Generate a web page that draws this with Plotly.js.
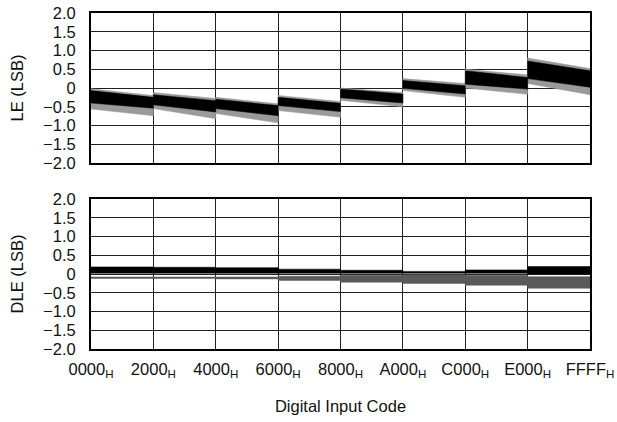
<!DOCTYPE html>
<html>
<head>
<meta charset="utf-8">
<script src="https://cdn.plot.ly/plotly-3.0.1.min.js"></script>
<style>html,body{margin:0;padding:0;background:#fff;}#chart{width:617px;height:422px;}</style>
</head>
<body>
<div id="chart"></div>
<script>
// Segment starts (codes) — each segment spans 0x2000 codes
const segStart = [0x0000, 0x2000, 0x4000, 0x6000, 0x8000, 0xA000, 0xC000, 0xE000];
const segEnd   = [0x2000, 0x4000, 0x6000, 0x8000, 0xA000, 0xC000, 0xE000, 0xFFFF];

// LE (LSB): dense core envelope and spike envelope at segment start / end
const leCoreTopStart  = [-0.07, -0.18, -0.30, -0.25, -0.03,  0.20,  0.46,  0.72];
const leCoreTopEnd    = [-0.25, -0.34, -0.47, -0.41, -0.16,  0.06,  0.28,  0.46];
const leCoreBotStart  = [-0.40, -0.45, -0.55, -0.47, -0.26, -0.01,  0.10,  0.25];
const leCoreBotEnd    = [-0.54, -0.64, -0.74, -0.63, -0.40, -0.16, -0.03,  0.02];
const leSpikeTopStart = [-0.02, -0.12, -0.25, -0.20,  0.00,  0.25,  0.50,  0.80];
const leSpikeTopEnd   = [-0.20, -0.28, -0.42, -0.36, -0.12,  0.12,  0.35,  0.52];
const leSpikeBotStart = [-0.56, -0.55, -0.68, -0.60, -0.33, -0.07,  0.00,  0.12];
const leSpikeBotEnd   = [-0.74, -0.82, -0.93, -0.78, -0.50, -0.25, -0.17, -0.18];

// DLE (LSB): positive band and negative spike band per segment
const dlePosTop = [0.19, 0.18, 0.17, 0.13, 0.10, 0.07, 0.11, 0.20];
const dlePosBot = [0.02, 0.02, 0.02, 0.02, 0.02, 0.02, 0.02, 0.00];
const dleNegTop = [-0.08, -0.08, -0.08, -0.06, -0.03, -0.02, -0.03, -0.07];
const dleNegBot = [-0.12, -0.12, -0.13, -0.17, -0.22, -0.25, -0.30, -0.38];

// Axis ticks
const xTickVals = [0x0000, 0x2000, 0x4000, 0x6000, 0x8000, 0xA000, 0xC000, 0xE000, 0xFFFF];
const xTickText = ['0000', '2000', '4000', '6000', '8000', 'A000', 'C000', 'E000', 'FFFF'].map(s => s + '<sub>H</sub>');
const yTickVals = [-2, -1.5, -1, -0.5, 0, 0.5, 1, 1.5, 2];
const yTickText = ['\u22122.0', '\u22121.5', '\u22121.0', '\u22120.5', '0', '0.5', '1.0', '1.5', '2.0'];

function bandTrace(topS, topE, botS, botE, color, xa, ya) {
  const x = [], y = [];
  for (let i = 0; i < segStart.length; i++) {
    x.push(segStart[i], segEnd[i], segEnd[i], segStart[i], segStart[i], null);
    y.push(topS[i], topE[i], botE[i], botS[i], topS[i], null);
  }
  return {x, y, xaxis: xa, yaxis: ya, type: 'scatter', mode: 'lines', fill: 'toself',
          fillcolor: color, line: {width: 0.5, color: color}, hoverinfo: 'skip', showlegend: false};
}

const traces = [
  bandTrace(leSpikeTopStart, leSpikeTopEnd, leSpikeBotStart, leSpikeBotEnd, '#9a9a9a', 'x2', 'y2'),
  bandTrace(leCoreTopStart, leCoreTopEnd, leCoreBotStart, leCoreBotEnd, '#000000', 'x2', 'y2'),
  bandTrace(dleNegTop, dleNegTop, dleNegBot, dleNegBot, '#5a5a5a', 'x', 'y'),
  bandTrace(dlePosTop, dlePosTop, dlePosBot, dlePosBot, '#000000', 'x', 'y')
];

const font = {family: '"Liberation Sans", Arial, Helvetica, sans-serif', size: 16.5, color: '#111'};

const yBase = {
  range: [-2, 2], tickvals: yTickVals, ticktext: yTickText, showgrid: true,
  gridcolor: '#222', gridwidth: 1, zeroline: false, showline: true, mirror: true,
  linecolor: '#000', linewidth: 2, ticks: '', ticklabelstandoff: 10, fixedrange: true,
  tickfont: font
};
const xBase = {
  range: [0, 0xFFFF], tickvals: xTickVals, showgrid: true, gridcolor: '#222', gridwidth: 1,
  zeroline: false, showline: true, mirror: true, linecolor: '#000', linewidth: 2, ticks: '',
  fixedrange: true, tickfont: font
};

const layout = {
  width: 617, height: 422,
  margin: {l: 91, r: 27, t: 13, b: 73},
  paper_bgcolor: '#fff', plot_bgcolor: '#fff',
  font: font, showlegend: false,
  xaxis: Object.assign({}, xBase, {anchor: 'y', ticktext: xTickText, ticklabelstandoff: 4,
    title: {text: 'Digital Input Code', font: font, standoff: 21}}),
  yaxis: Object.assign({}, yBase, {domain: [0, 0.4464], anchor: 'x',
    title: {text: 'DLE (LSB)', font: font, standoff: 15}}),
  xaxis2: Object.assign({}, xBase, {anchor: 'y2', showticklabels: false, matches: 'x'}),
  yaxis2: Object.assign({}, yBase, {domain: [0.5536, 1], anchor: 'x2',
    title: {text: 'LE (LSB)', font: font, standoff: 15}})
};

Plotly.newPlot('chart', traces, layout, {staticPlot: true, displayModeBar: false});
</script>
</body>
</html>
